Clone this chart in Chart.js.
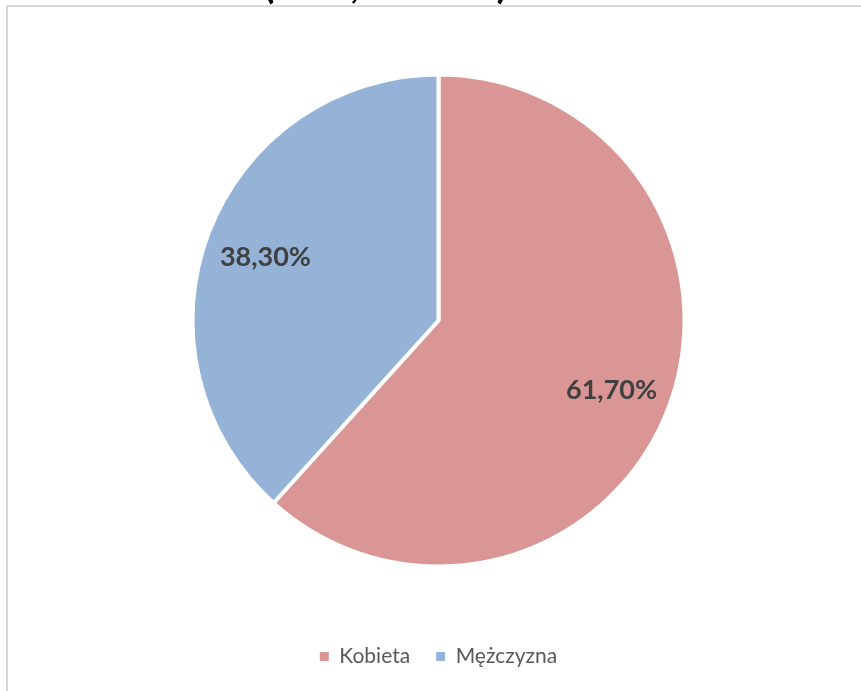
<!DOCTYPE html>
<html>
<head>
<meta charset="utf-8">
<script src="https://cdn.jsdelivr.net/npm/chart.js@4"></script>
<style>
    html, body { margin: 0; padding: 0; background: #ffffff; }
    #wrap { position: relative; width: 861px; height: 691px; }
</style>
</head>
<body>
<div id="wrap"><canvas id="pieChart" width="861" height="691"></canvas></div>
<script>
// Data
var categories = ['Kobieta', 'Mężczyzna'];
var shares = [61.7, 38.3];
var sliceColors = ['#D99694', '#95B3D7'];

// cut off title: only the bottom of these glyphs is visible
var titleBits = [{ text: '(', x: 269 }, { text: ',', x: 355 }, { text: ')', x: 502 }];

function formatPct(v) {
    return v.toFixed(2).replace('.', ',') + '%';
}

var framePlugin = {
    id: 'frame',
    beforeDraw: function(chart) {
        var ctx = chart.ctx;
        ctx.save();
        ctx.fillStyle = '#D9D9D9';
        ctx.fillRect(6, 5, 861, 2);
        ctx.fillRect(6, 5, 2, 700);
        ctx.fillStyle = '#000000';
        ctx.font = 'bold 40px Lato';
        ctx.textAlign = 'center';
        ctx.textBaseline = 'alphabetic';
        titleBits.forEach(function(b) {
            ctx.fillText(b.text, b.x, -2);
        });
        ctx.restore();
    }
};

var sliceLabels = {
    id: 'sliceLabels',
    afterDatasetsDraw: function(chart) {
        var ctx = chart.ctx;
        var meta = chart.getDatasetMeta(0);
        ctx.save();
        ctx.font = 'bold 27px Lato';
        ctx.fillStyle = '#404040';
        ctx.textAlign = 'center';
        ctx.textBaseline = 'middle';
        meta.data.forEach(function(arc, i) {
            var p = arc.getProps(['x', 'y', 'startAngle', 'endAngle', 'outerRadius'], true);
            var mid = (p.startAngle + p.endAngle) / 2;
            var r = (p.outerRadius - 2) * 0.76;
            ctx.fillText(formatPct(shares[i]), p.x + Math.cos(mid) * r, p.y + Math.sin(mid) * r + 3);
        });
        ctx.restore();
    }
};

var ctx = document.getElementById('pieChart').getContext('2d');
var pieChart = new Chart(ctx, {
    type: 'pie',
    data: {
        labels: categories,
        datasets: [{
            data: shares,
            backgroundColor: sliceColors,
            borderColor: '#ffffff',
            borderWidth: 4,
            radius: 246
        }]
    },
    options: {
        responsive: false,
        animation: false,
        layout: {
            padding: { top: 21, bottom: 14, left: 16, right: 0 }
        },
        plugins: {
            legend: {
                position: 'bottom',
                labels: {
                    boxWidth: 9,
                    boxHeight: 9,
                    padding: 26,
                    color: '#595959',
                    font: { family: 'Lato', size: 21 },
                    generateLabels: function(chart) {
                        var items = Chart.controllers.pie.overrides.plugins.legend.labels.generateLabels(chart);
                        items.forEach(function(it) {
                            it.lineWidth = 0;
                            it.strokeStyle = 'rgba(0,0,0,0)';
                        });
                        return items;
                    }
                }
            },
            tooltip: { enabled: false }
        }
    },
    plugins: [framePlugin, sliceLabels]
});
</script>
</body>
</html>
